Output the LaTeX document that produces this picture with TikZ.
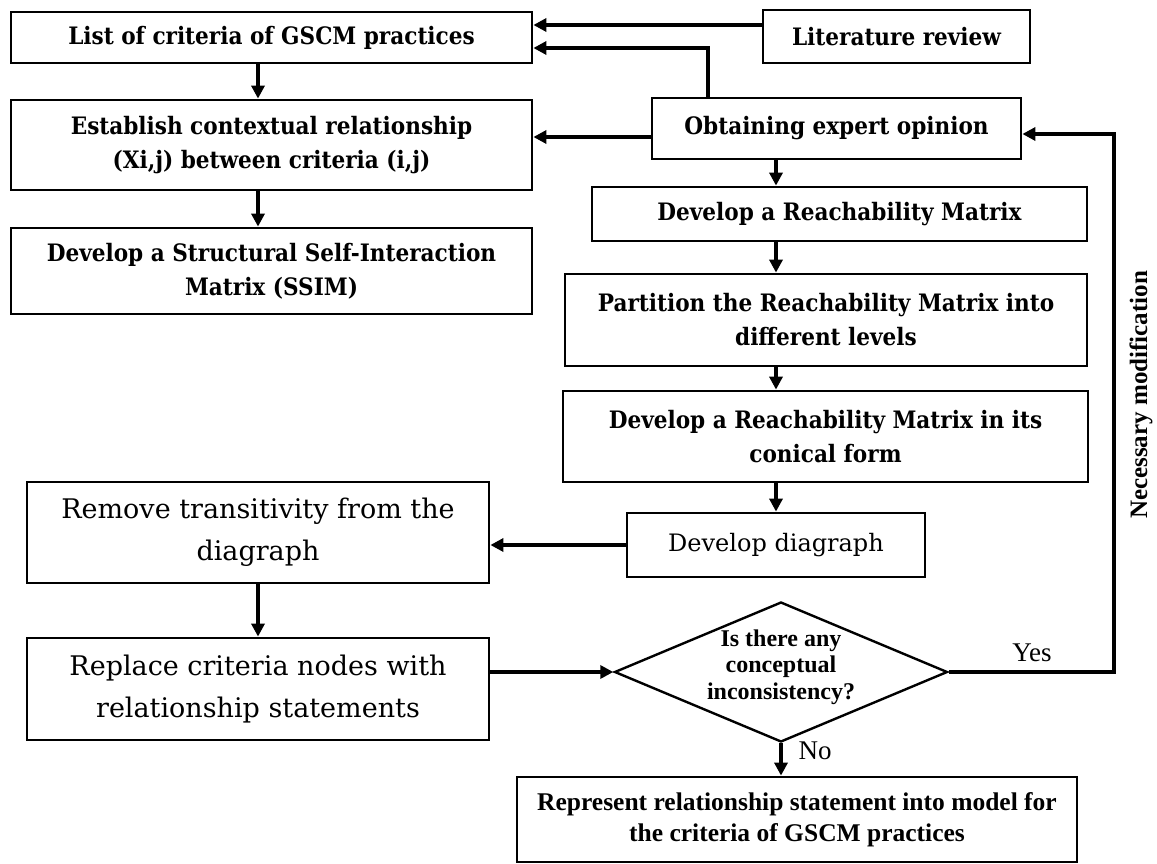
\documentclass[tikz,border=0pt]{standalone}
\usepackage{fontspec}
\setmainfont{Liberation Serif}
\newfontfamily\dvs{DejaVu Serif}
\newfontfamily\dvc{DejaVu Serif Condensed}
\usetikzlibrary{arrows.meta,shapes.geometric,calc}
\begin{document}
\begin{tikzpicture}[x=1pt,y=-1pt,
  box/.style={draw, line width=2.8pt, inner sep=0pt, align=center, fill=white,
    font=\dvc\bfseries\fontsize{24}{34}\selectfont},
  bigbox/.style={box, font=\dvs\fontsize{27}{42}\selectfont},
  decision/.style={draw, diamond, aspect=2.38, line width=2.4pt, inner sep=0pt, align=center},
  finalbox/.style={box, font=\bfseries\fontsize{25.5}{31}\selectfont},
  arr/.style={line width=3.6pt, -{Triangle[length=13pt,width=13pt]}},
  lbl/.style={inner sep=0pt, font=\fontsize{27}{30}\selectfont}
]
\useasboundingbox (0,0) rectangle (1157,864);

% left column
\node[box, minimum width=521, minimum height=51] (b1) at (271.5,37.5) {List of criteria of GSCM practices};
\node[box, minimum width=521, minimum height=90] (b2) at (271.5,145) {Establish contextual relationship\\(Xi,j) between criteria (i,j)};
\node[box, minimum width=521, minimum height=86] (b3) at (271.5,271) {Develop a Structural Self-Interaction\\Matrix (SSIM)};

% right column
\node[box, minimum width=267, minimum height=53] (lit) at (896.5,36.5) {Literature review};
\node[box, minimum width=369, minimum height=61] (obt) at (836.5,128.5) {Obtaining expert opinion};
\node[box, minimum width=495, minimum height=54] (reach) at (839.5,214) {Develop a Reachability Matrix};
\node[box, minimum width=522, minimum height=92] (part) at (826,320) {Partition the Reachability Matrix into\\different levels};
\node[box, minimum width=525, minimum height=91] (con) at (825.5,436.5) {Develop a Reachability Matrix in its\\conical form};
\node[box, font=\dvs\fontsize{24}{34}\selectfont, minimum width=298, minimum height=64] (diag) at (776,545) {Develop diagraph};

% lower left
\node[bigbox, minimum width=462, minimum height=101] (rem) at (258,532.5) {Remove transitivity from the\\diagraph};
\node[bigbox, minimum width=462, minimum height=102] (rep) at (258,689) {Replace criteria nodes with\\relationship statements};

% decision and final
\node[decision, minimum width=333, minimum height=140] (dia) at (781,672) {};
\node[inner sep=0pt, align=center, font=\bfseries\fontsize{24}{26.5}\selectfont] (diatext) at (781,667) {Is there any\\conceptual\\inconsistency?};
\node[finalbox, minimum width=560, minimum height=85] (repr) at (797,819.5) {Represent relationship statement into model for\\the criteria of GSCM practices};

% helper coordinates
\coordinate (rx) at (1114,0);
\coordinate (t2) at (708,48);
\coordinate (fb) at ([yshift=-5.5pt]obt.east);

% connectors
\draw[arr] ([yshift=11.5pt]lit.west) -- ([yshift=11.5pt]lit.west -| b1.east);
\draw[arr] (obt.north -| t2) -- (t2) -- (t2 -| b1.east);
\draw[arr] ([yshift=-8.5pt]obt.west) -- ([yshift=-8.5pt]obt.west -| b2.east);
\draw[arr] (b1.south -| rem.north) -- (b2.north -| rem.north);
\draw[arr] (b2.south -| rem.north) -- (b3.north -| rem.north);

\draw[arr] (obt.south -| diag.north) -- (reach.north -| diag.north);
\draw[arr] (reach.south -| diag.north) -- (part.north -| diag.north);
\draw[arr] (part.south -| diag.north) -- (con.north -| diag.north);
\draw[arr] (con.south -| diag.north) -- (diag.north);

\draw[arr] (diag.west) -- (diag.west -| rem.east);
\draw[arr] (rem.south) -- (rep.north);
\draw[arr] (rep.east |- dia.west) -- (dia.west);
\draw[arr] (dia.east) -- (dia.east -| rx) -- (rx |- fb) -- (fb);
\draw[arr] (dia.south) -- (dia.south |- repr.north);

% labels
\node[lbl] (yes) at (1032,653) {Yes};
\node[lbl] (no) at (815,751) {No};
\node[rotate=90, inner sep=0pt, font=\bfseries\fontsize{25}{28}\selectfont] (nm) at (1141,395) {Necessary modification};
\end{tikzpicture}
\end{document}
